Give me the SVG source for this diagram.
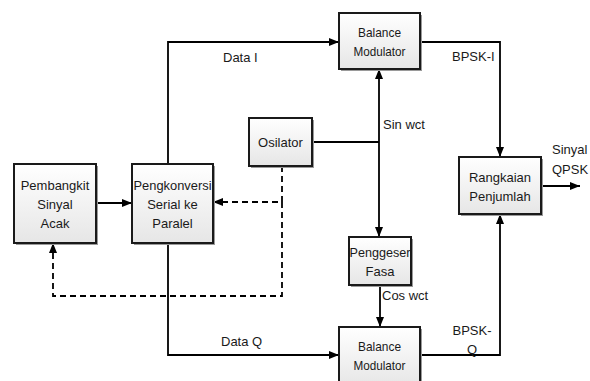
<svg xmlns="http://www.w3.org/2000/svg" width="590" height="381" viewBox="0 0 590 381">
<defs>
<linearGradient id="g" x1="0" y1="0" x2="0" y2="1">
<stop offset="0" stop-color="#ffffff"/>
<stop offset="1" stop-color="#e6e6e6"/>
</linearGradient>
<marker id="ah" viewBox="0 0 10 8" refX="10" refY="4" markerWidth="10" markerHeight="8" markerUnits="userSpaceOnUse" orient="auto">
<path d="M0,0 L10,4 L0,8 Z" fill="#000"/>
</marker>
</defs>
<style>
.box{fill:url(#g);stroke:#1a1a1a;stroke-width:2}
.sh{fill:#9a9a9a}
.t{font-family:"Liberation Sans",Arial,sans-serif;font-size:13px;fill:#1a1a1a;text-anchor:middle}
.l{font-family:"Liberation Sans",Arial,sans-serif;font-size:13px;fill:#1a1a1a}
.c{fill:none;stroke:#000;stroke-width:1.8}
.d{fill:none;stroke:#000;stroke-width:1.8;stroke-dasharray:6,4}
</style>
<rect width="590" height="381" fill="#fff"/>
<g id="connectors">
<line class="c" x1="96" y1="203" x2="132" y2="203" marker-end="url(#ah)"/>
<polyline class="c" points="168,164 168,42 339,42" marker-end="url(#ah)"/>
<polyline class="c" points="168,243 168,355 339,355" marker-end="url(#ah)"/>
<line class="c" x1="312" y1="142" x2="379" y2="142"/>
<line class="c" x1="379" y1="142" x2="379" y2="69" marker-end="url(#ah)"/>
<line class="c" x1="379" y1="142" x2="379" y2="237" marker-end="url(#ah)"/>
<line class="c" x1="380" y1="285" x2="380" y2="327" marker-end="url(#ah)"/>
<polyline class="c" points="420,42 500,42 500,157" marker-end="url(#ah)"/>
<polyline class="c" points="420,355 500,355 500,214" marker-end="url(#ah)"/>
<line class="c" x1="541" y1="186" x2="580" y2="186" marker-end="url(#ah)"/>
<polyline class="d" points="282,166 282,202 213,202" marker-end="url(#ah)"/>
<polyline class="d" points="282,202 282,296 53,296 53,243" marker-end="url(#ah)"/>
<text class="l" x="223" y="62">Data I</text>
<text class="l" x="221" y="346">Data Q</text>
<text class="l" x="383" y="129">Sin wct</text>
<text class="l" x="382" y="300">Cos wct</text>
<text class="l" x="452" y="61">BPSK-I</text>
<text class="t" x="472" y="335">BPSK-</text>
<text class="t" x="472" y="354">Q</text>
<text class="l" x="552" y="154">Sinyal</text>
<text class="l" x="552" y="174">QPSK</text>
</g>
<g id="pembangkit">
<rect class="sh" x="16" y="166" width="82" height="79"/>
<rect class="box" x="14" y="164" width="82" height="79"/>
<text class="t" x="55" y="190">Pembangkit</text>
<text class="t" x="55" y="209">Sinyal</text>
<text class="t" x="55" y="228">Acak</text>
</g>
<g id="pengkonversi">
<rect class="sh" x="134" y="166" width="81" height="79"/>
<rect class="box" x="132" y="164" width="81" height="79"/>
<text class="t" x="172.5" y="190" textLength="78" lengthAdjust="spacingAndGlyphs">Pengkonversi</text>
<text class="t" x="172.5" y="209">Serial ke</text>
<text class="t" x="172.5" y="228">Paralel</text>
</g>
<g id="bm1">
<rect class="sh" x="341" y="15" width="81" height="56"/>
<rect class="box" x="339" y="13" width="81" height="56"/>
<text class="t" x="379.5" y="37" textLength="43" lengthAdjust="spacingAndGlyphs">Balance</text>
<text class="t" x="379.5" y="56" textLength="52" lengthAdjust="spacingAndGlyphs">Modulator</text>
</g>
<g id="osilator">
<rect class="sh" x="251" y="120" width="63" height="48"/>
<rect class="box" x="249" y="118" width="63" height="48"/>
<text class="t" x="280.5" y="147">Osilator</text>
</g>
<g id="penggeser">
<rect class="sh" x="351" y="239" width="62" height="48"/>
<rect class="box" x="349" y="237" width="62" height="48"/>
<text class="t" x="380" y="257" textLength="61" lengthAdjust="spacingAndGlyphs">Penggeser</text>
<text class="t" x="380" y="276">Fasa</text>
</g>
<g id="bm2">
<rect class="sh" x="341" y="329" width="81" height="56"/>
<rect class="box" x="339" y="327" width="81" height="60"/>
<text class="t" x="379.5" y="351" textLength="43" lengthAdjust="spacingAndGlyphs">Balance</text>
<text class="t" x="379.5" y="370" textLength="52" lengthAdjust="spacingAndGlyphs">Modulator</text>
</g>
<g id="rangkaian">
<rect class="sh" x="461" y="159" width="82" height="57"/>
<rect class="box" x="459" y="157" width="82" height="57"/>
<text class="t" x="500" y="182">Rangkaian</text>
<text class="t" x="500" y="201">Penjumlah</text>
</g>
</svg>
